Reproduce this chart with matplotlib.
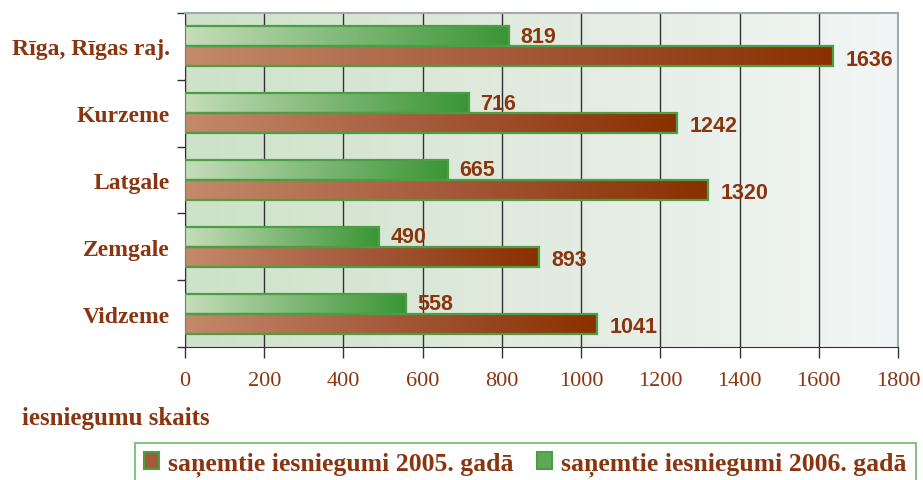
import numpy as np
import matplotlib
matplotlib.use("Agg")
import matplotlib.pyplot as plt
from matplotlib.colors import LinearSegmentedColormap
from matplotlib.patches import Patch

# dati
regions = ["Vidzeme", "Zemgale", "Latgale", "Kurzeme", "Rīga, Rīgas raj."]
vals_2005 = [1041, 893, 1320, 1242, 1636]
vals_2006 = [558, 490, 665, 716, 819]
xticks = [0, 200, 400, 600, 800, 1000, 1200, 1400, 1600, 1800]
label_2005 = "saņemtie iesniegumi 2005. gadā"
label_2006 = "saņemtie iesniegumi 2006. gadā"
xlabel = "iesniegumu skaits"

BROWN_TXT = "#8a3510"
EDGE_GREEN = "#4c9e45"
cmap_green = LinearSegmentedColormap.from_list("g", ["#c6ddba", "#7fb877", "#3a9535"])
cmap_brown = LinearSegmentedColormap.from_list("b", ["#c48a6a", "#a4593a", "#8a3000"])
cmap_bg = LinearSegmentedColormap.from_list("bg", ["#cde2c8", "#e2ebe0", "#f2f6f6"])

serif = "Liberation Serif"
sans = "Liberation Sans"

fig = plt.figure(figsize=(9.23, 4.81), dpi=100)
ax = fig.add_axes([185 / 923, 1 - 348 / 481, 713 / 923, 334 / 481])

y = np.arange(len(regions))
h = 0.3
grad = np.linspace(0, 1, 256).reshape(1, -1)

# fons ar gradientu
ax.imshow(grad, cmap=cmap_bg, extent=[0, 1, 0, 1], transform=ax.transAxes,
          aspect="auto", zorder=0)

bars06 = ax.barh(y + h / 2, vals_2006, height=h, facecolor="none",
                 edgecolor=EDGE_GREEN, linewidth=1.6, zorder=4)
bars05 = ax.barh(y - h / 2, vals_2005, height=h, facecolor="none",
                 edgecolor=EDGE_GREEN, linewidth=1.6, zorder=4)

for bars, cm in [(bars06, cmap_green), (bars05, cmap_brown)]:
    for p in bars:
        x0, y0, w, hh = p.get_x(), p.get_y(), p.get_width(), p.get_height()
        ax.imshow(grad, cmap=cm, extent=[x0, x0 + w, y0, y0 + hh],
                  aspect="auto", zorder=3)

for p, v in zip(bars06, vals_2006):
    ax.text(v + 28, p.get_y() + p.get_height() / 2, str(v), va="center", ha="left",
            fontsize=15.5, fontweight="bold", family=sans, color=BROWN_TXT, zorder=5)
for p, v in zip(bars05, vals_2005):
    ax.text(v + 32, p.get_y() + p.get_height() / 2 - 0.04, str(v), va="center", ha="left",
            fontsize=15.5, fontweight="bold", family=sans, color=BROWN_TXT, zorder=5)

ax.set_xlim(0, 1800)
ax.set_ylim(-0.5, len(regions) - 0.5)
ax.set_xticks(xticks)
ax.set_xticklabels([str(t) for t in xticks], family=serif, fontsize=16, color=BROWN_TXT)
ax.tick_params(axis="x", length=8, width=1, color="#333333", pad=9)
ax.grid(axis="x", color="#333333", linewidth=1, zorder=1)
ax.set_axisbelow(True)

ax.set_yticks(y)
ax.set_yticklabels(regions, family=serif, fontsize=17, fontweight="bold", color=BROWN_TXT)
ax.tick_params(axis="y", which="major", length=0, pad=11)
ax.set_yticks(np.arange(-0.5, len(regions), 1), minor=True)
ax.tick_params(axis="y", which="minor", length=6, width=1, color="#333333")

for s in ["top", "right"]:
    ax.spines[s].set_color("#a3aaae")
    ax.spines[s].set_linewidth(1.5)
ax.spines["left"].set_color("#333333")
ax.spines["bottom"].set_color("#333333")

fig.text(22 / 923, 1 - 418 / 481, xlabel, family=serif, fontsize=18, fontweight="bold",
         color=BROWN_TXT, va="center", ha="left")

handles = [Patch(facecolor="#a4593a", edgecolor=EDGE_GREEN, linewidth=1.5),
           Patch(facecolor="#5fa855", edgecolor=EDGE_GREEN, linewidth=1.5)]
leg = fig.legend(handles, [label_2005, label_2006], loc="center",
                 bbox_to_anchor=(525.5 / 923, 1 - 465 / 481),
                 ncol=2, frameon=True, fancybox=False,
                 prop={"family": serif, "size": 18.5, "weight": "bold"},
                 labelcolor=BROWN_TXT, handlelength=0.6, handleheight=0.6,
                 handletextpad=0.35, columnspacing=0.9, borderpad=0.35,
                 borderaxespad=0)
leg.get_frame().set_edgecolor("#6cb266")
leg.get_frame().set_linewidth(1.5)

fig.savefig("out.png", dpi=100)
